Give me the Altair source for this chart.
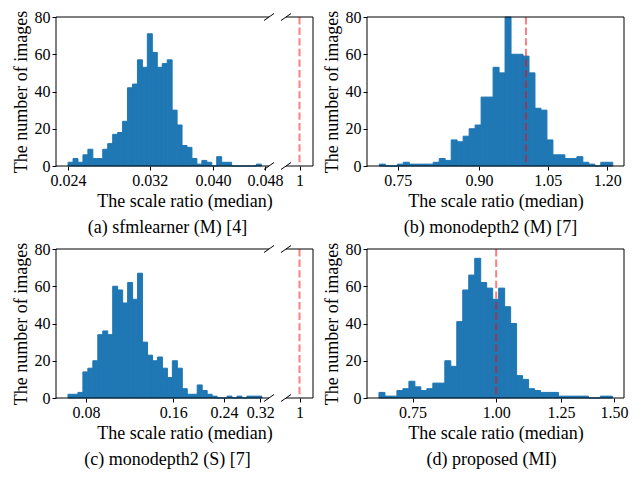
import altair as alt
import numpy as np
import pandas as pd

# ---- data (counts per log-spaced bin) ----
counts_a = [2, 4, 2, 6, 9, 4, 4, 9, 12, 17, 18, 24, 42, 44, 57, 53, 71, 61, 53, 55,
            57, 30, 22, 11, 10, 4, 1, 3, 2, 0, 5, 2, 2, 0, 0, 0, 0, 0, 1]
counts_b = [1, 0, 0, 1, 2, 1, 1, 1, 1, 2, 4, 3, 14, 13, 16, 20, 22, 37, 37, 53,
            50, 80, 60, 60, 59, 50, 31, 30, 14, 6, 6, 4, 4, 5, 2, 1, 0, 2, 2]
counts_c = [2, 2, 3, 14, 16, 20, 34, 36, 34, 60, 58, 51, 62, 53, 67, 30, 23, 20, 22, 16,
            11, 20, 16, 5, 2, 2, 7, 4, 2, 1, 0, 0, 1, 0, 1, 0, 1, 1, 1]
counts_d = [3, 1, 1, 4, 5, 9, 6, 4, 5, 8, 8, 20, 17, 41, 58, 66, 75, 62, 59, 53,
            59, 49, 40, 12, 10, 5, 4, 3, 3, 3, 1, 1, 1, 1, 1, 0, 0, 1, 1]

# first / last bin edge of each histogram
range_a = [0.0240, 0.0474]
range_b = [0.7197, 1.215]
range_c = [0.0693, 0.324]
range_d = [0.668, 1.492]

ticks_a = [0.024, 0.032, 0.040, 0.048, 1]
ticks_b = [0.75, 0.90, 1.05, 1.20]
ticks_c = [0.08, 0.16, 0.24, 0.32, 1]
ticks_d = [0.75, 1.00, 1.25, 1.50]

captions = ["(a) sfmlearner (M) [4]", "(b) monodepth2 (M) [7]",
            "(c) monodepth2 (S) [7]", "(d) proposed (MI)"]
ref_value = [1.0]
y_ticks = [0, 20, 40, 60, 80]

# ---- layout ----
W, H = 257, 149
BRK_L, BRK_R = 213, 230
BLUE = "#1f77b4"
FONT = "Liberation Serif"
one = pd.DataFrame({"k": [0]})


def seg(x1, y1, x2, y2):
    return alt.Chart(one).mark_rule(color="black", strokeWidth=1).encode(
        x=alt.value(x1), x2=alt.value(x2), y=alt.value(y1), y2=alt.value(y2))


def panel(counts, rng, dom, srange, ticks, label_expr, caption, broken, cap_dx):
    edges = np.geomspace(rng[0], rng[1], len(counts) + 1)
    df = pd.DataFrame({"lo": edges[:-1], "hi": edges[1:], "n": counts})
    xscale = alt.Scale(type="log", domain=dom, range=srange, nice=False)
    xaxis = alt.Axis(values=ticks, title="The scale ratio (median)", labelExpr=label_expr)
    bars = alt.Chart(df).mark_rect(color=BLUE, stroke=BLUE, strokeWidth=1).encode(
        x=alt.X("lo:Q", scale=xscale, axis=xaxis),
        x2="hi:Q",
        y=alt.Y("n:Q", scale=alt.Scale(domain=[0, 80], nice=False),
                axis=alt.Axis(values=y_ticks, title="The number of images")),
        y2=alt.datum(0),
    )
    vline = alt.Chart(pd.DataFrame({"v": ref_value})).mark_rule(
        color="red", opacity=0.5, strokeWidth=2, strokeDash=[7.4, 3.2]
    ).encode(x=alt.X("v:Q", scale=xscale, axis=xaxis))
    layers = [bars, vline, seg(0, 0, 0, H), seg(W, 0, W, H)]
    if broken:
        layers += [seg(0, 0, BRK_L, 0), seg(BRK_R, 0, W, 0),
                   seg(0, H, BRK_L, H), seg(BRK_R, H, W, H)]
        for cx in (BRK_L, BRK_R):
            layers += [seg(cx - 5, 3.5, cx + 5, -3.5), seg(cx - 5, H + 3.5, cx + 5, H - 3.5)]
    else:
        layers += [seg(0, 0, W, 0), seg(0, H, W, H)]
    return alt.layer(*layers).properties(
        width=W, height=H,
        title=alt.TitleParams(caption, orient="bottom", anchor="middle", frame="group",
                              dx=cap_dx, fontSize=18, font=FONT, fontWeight="normal",
                              color="black", offset=9),
    )


expr_a = "datum.value == 1 ? '1' : format(datum.value, '.3f')"
expr_c = "datum.value == 1 ? '1' : format(datum.value, '.2f')"
expr_bd = "format(datum.value, '.2f')"

pa = panel(counts_a, range_a, [0.0230, 0.0487, 0.95, 1 / 0.95], [0, BRK_L, BRK_R, W],
           ticks_a, expr_a, captions[0], True, -17)
pb = panel(counts_b, range_b, [0.700, 1.246], [0, W], ticks_b, expr_bd, captions[1], False, -5)
pc = panel(counts_c, range_c, [0.0630, 0.343, 0.95, 1 / 0.95], [0, BRK_L, BRK_R, W],
           ticks_c, expr_c, captions[2], True, -17)
pd_ = panel(counts_d, range_d, [0.641, 1.553], [0, W], ticks_d, expr_bd, captions[3], False, -4)

chart = alt.vconcat(
    alt.hconcat(pa, pb, spacing=8),
    alt.hconcat(pc, pd_, spacing=8),
    spacing=2,
).configure_view(stroke="transparent").configure_axis(
    labelFont=FONT, labelFontSize=16, labelColor="black",
    titleFont=FONT, titleFontSize=18, titleFontWeight="normal", titleColor="black",
    tickColor="black", tickSize=4, tickWidth=1, domain=False, grid=False,
    labelPadding=2, titlePadding=4,
).properties(padding={"left": 3, "top": 0, "right": 5, "bottom": 5})

chart.save("out.html", embed_options={"renderer": "svg", "actions": False})
